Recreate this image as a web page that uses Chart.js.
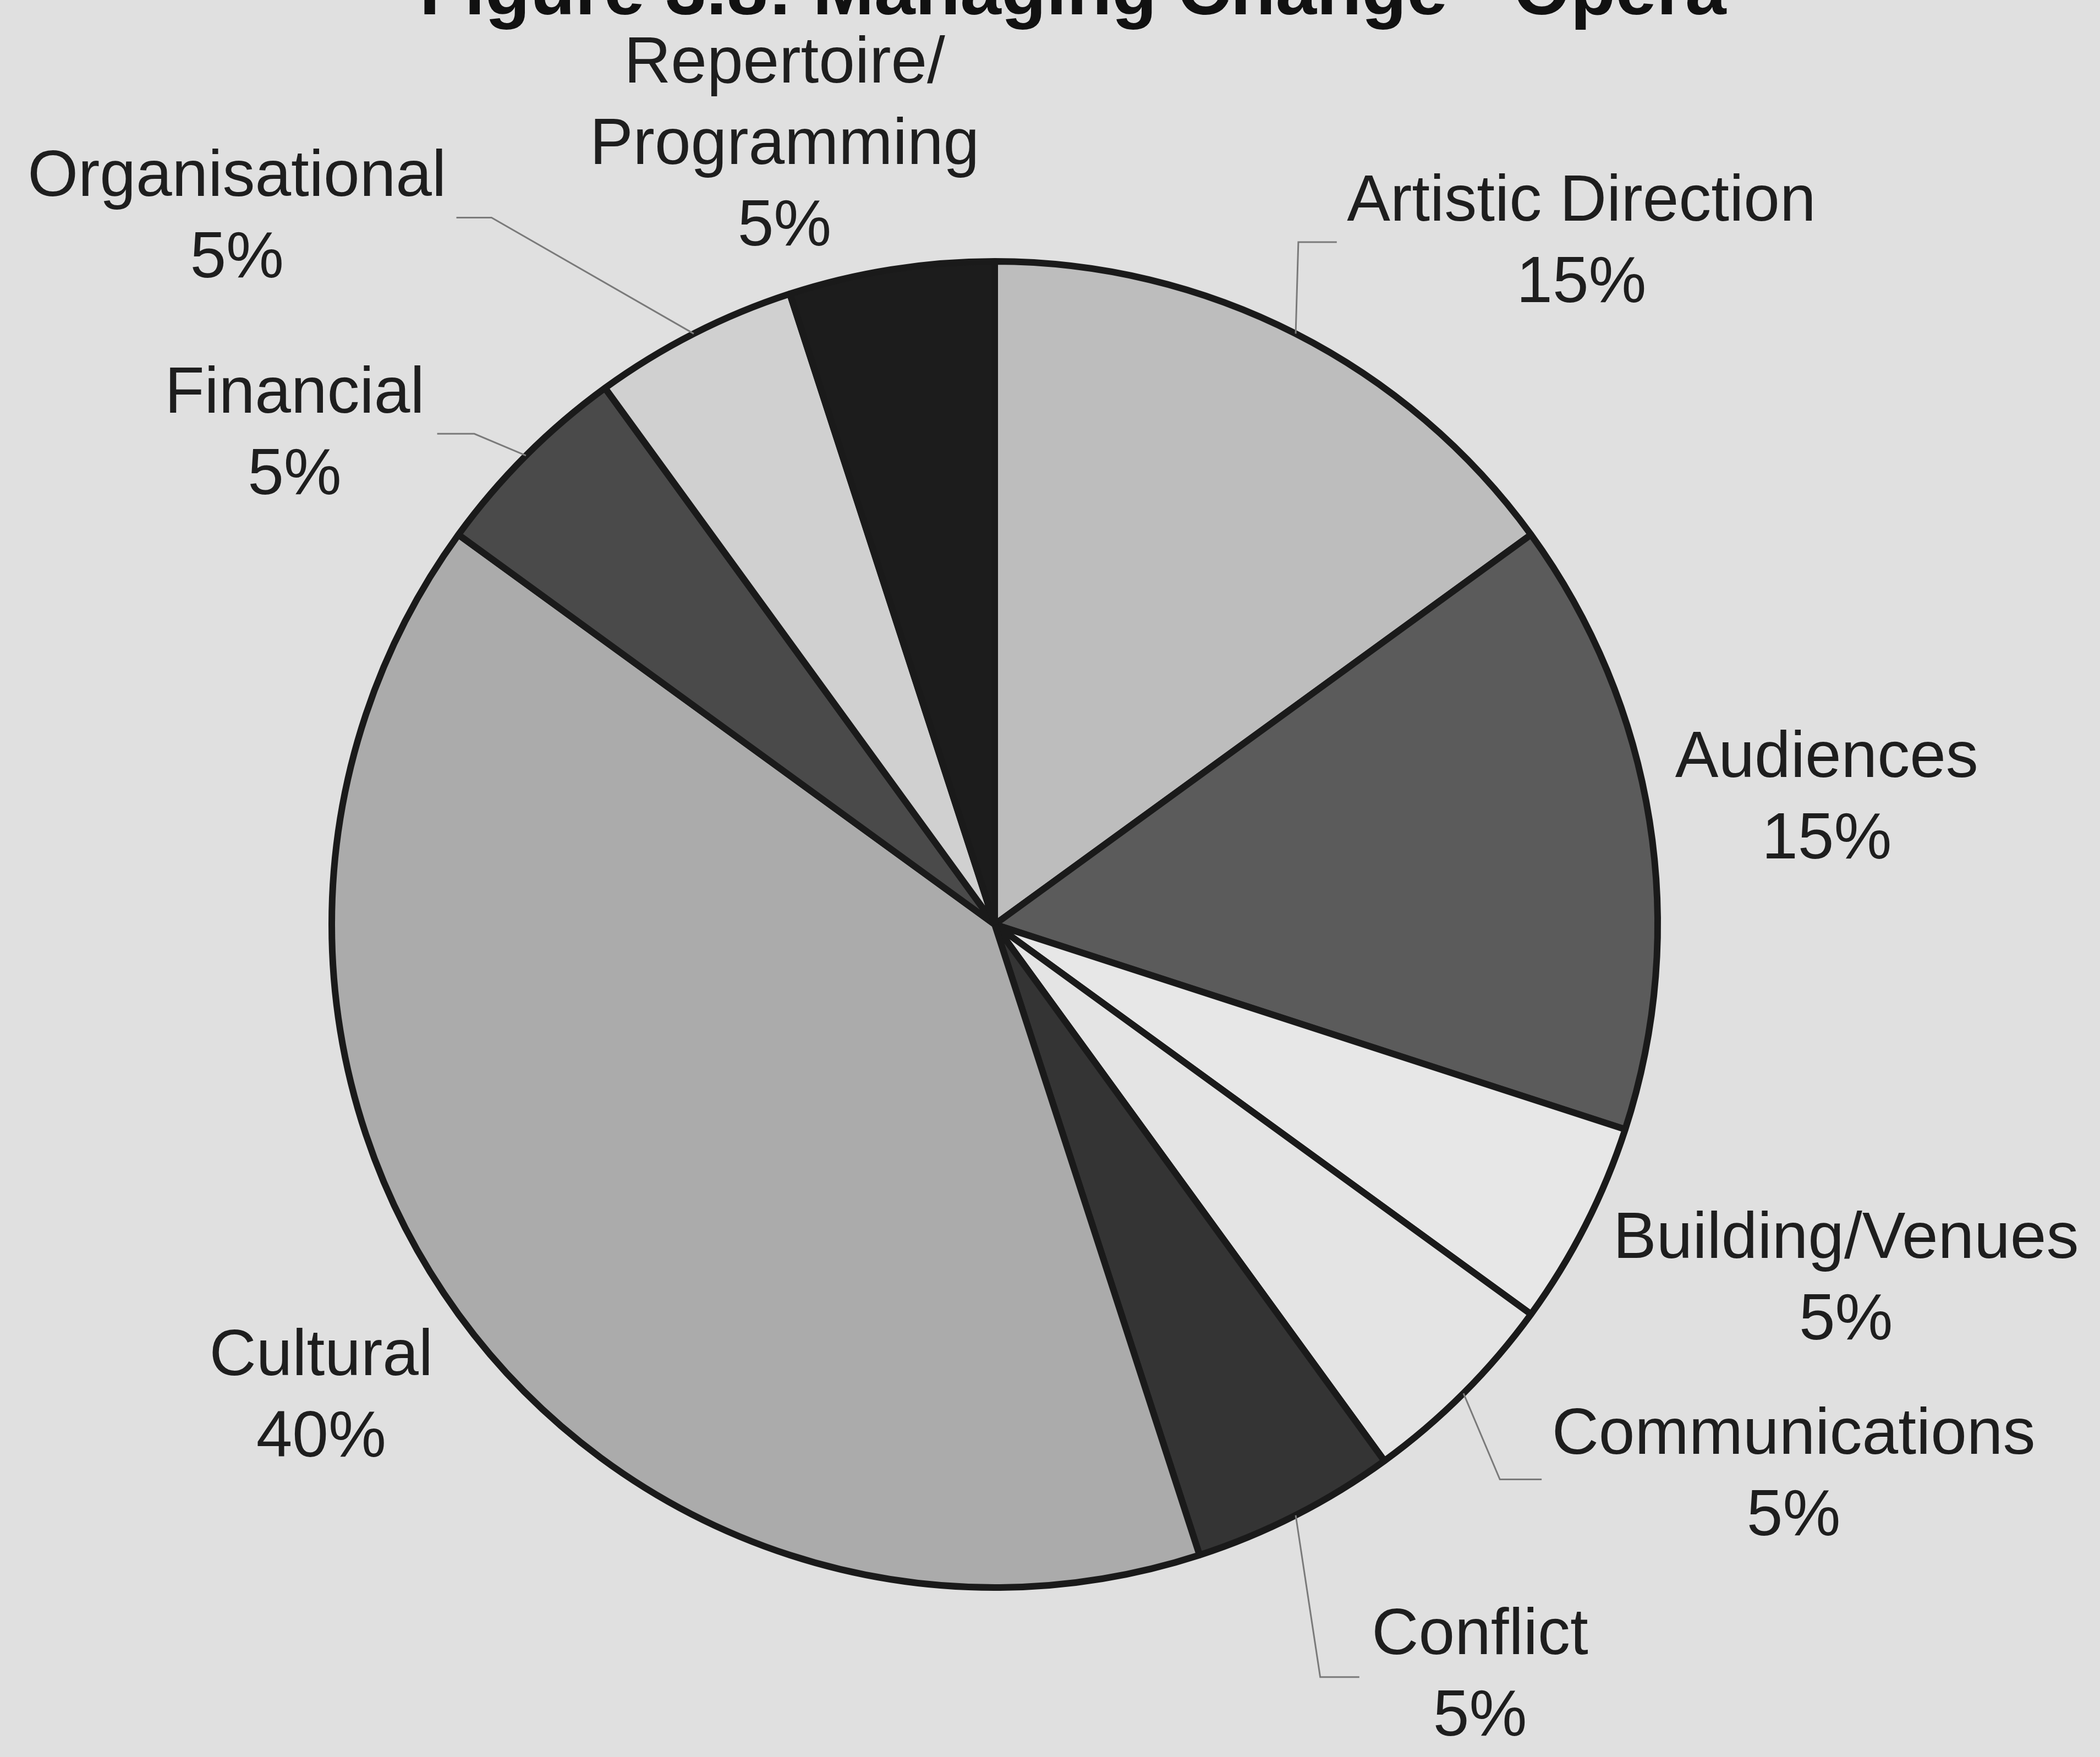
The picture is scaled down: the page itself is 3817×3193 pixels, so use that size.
<!DOCTYPE html>
<html>
<head>
<meta charset="utf-8">
<script src="https://cdn.jsdelivr.net/npm/chart.js@4/dist/chart.umd.min.js"></script>
<style>
  html, body { margin: 0; padding: 0; background: #e0e0e0; }
  canvas { display: block; }
</style>
</head>
<body>
<canvas id="chart" width="3817" height="3193"></canvas>
<script>
// chart data
const categories = ['Artistic Direction', 'Audiences', 'Building/Venues', 'Communications',
  'Conflict', 'Cultural', 'Financial', 'Organisational', 'Repertoire/Programming'];
const shares = [15, 15, 5, 5, 5, 40, 5, 5, 5];
const titleText = 'Figure 3.8: Managing Change - Opera';

// greys of the slices, same order as categories
const sliceColors = ['#bdbdbd', '#5b5b5b', '#e7e7e7', '#e4e4e4', '#343434',
  '#ababab', '#4a4a4a', '#d0d0d0', '#1c1c1c'];

// where each label sits, in units of the pie radius from the centre (x = text centre, y = first baseline)
// leader: elbow + end point of the grey connector, or null
const labelLayout = [
  { x: 0.885, y: -1.061, leader: [[0.458, -1.029], [0.516, -1.029]] },
  { x: 1.255, y: -0.222, leader: null },
  { x: 1.284, y: 0.503, leader: null },
  { x: 1.205, y: 0.798, leader: [[0.762, 0.837], [0.825, 0.837]] },
  { x: 0.732, y: 1.100, leader: [[0.491, 1.135], [0.550, 1.135]] },
  { x: -1.016, y: 0.680, leader: null },
  { x: -1.056, y: -0.772, leader: [[-0.785, -0.740], [-0.841, -0.740]] },
  { x: -1.143, y: -1.099, leader: [[-0.759, -1.066], [-0.812, -1.066]] },
  { x: -0.317, y: -1.270, leader: null, wrap: true }
];

const FONT = '"Liberation Sans", Arial, sans-serif';
const LABEL_SIZE = 118;
const LINE_GAP = 148;

const outsideLabels = {
  id: 'outsideLabels',
  afterDraw(chart) {
    const ctx = chart.ctx;
    const meta = chart.getDatasetMeta(0);
    const total = shares.reduce((a, b) => a + b, 0);

    ctx.save();
    // title, cut off at the top edge like the scan
    ctx.fillStyle = '#111';
    ctx.font = 'bold 134px ' + FONT;
    ctx.textAlign = 'center';
    ctx.textBaseline = 'alphabetic';
    ctx.fillText(titleText, 1950, 26);

    meta.data.forEach((arc, i) => {
      const { x, y, outerRadius, startAngle, endAngle } = arc.getProps(['x', 'y', 'outerRadius', 'startAngle', 'endAngle'], true);
      const lay = labelLayout[i];
      const mid = (startAngle + endAngle) / 2;

      // leader line from the rim to the label
      if (lay.leader) {
        ctx.strokeStyle = '#7a7a7a';
        ctx.lineWidth = 3;
        ctx.beginPath();
        ctx.moveTo(x + Math.cos(mid) * outerRadius, y + Math.sin(mid) * outerRadius);
        lay.leader.forEach(p => ctx.lineTo(x + p[0] * outerRadius, y + p[1] * outerRadius));
        ctx.stroke();
      }

      let lines = [categories[i]];
      if (lay.wrap) {
        const cut = categories[i].indexOf('/') + 1;
        lines = [categories[i].slice(0, cut), categories[i].slice(cut)];
      }
      lines.push(Math.round(shares[i] / total * 100) + '%');

      ctx.fillStyle = '#1e1e1e';
      ctx.font = LABEL_SIZE + 'px ' + FONT;
      ctx.textAlign = 'center';
      const lx = x + lay.x * outerRadius;
      const ly = y + lay.y * outerRadius;
      lines.forEach((t, k) => ctx.fillText(t, lx, ly + k * LINE_GAP));
    });
    ctx.restore();
  }
};

new Chart(document.getElementById('chart'), {
  type: 'pie',
  data: {
    labels: categories,
    datasets: [{
      data: shares,
      backgroundColor: sliceColors,
      borderColor: '#1a1a1a',
      borderWidth: 12,
      radius: 1205
    }]
  },
  options: {
    responsive: false,
    animation: false,
    layout: { padding: { left: 0, right: 201, top: 167, bottom: 0 } },
    plugins: {
      legend: { display: false },
      tooltip: { enabled: false },
      title: { display: false }
    }
  },
  plugins: [outsideLabels]
});
</script>
</body>
</html>
